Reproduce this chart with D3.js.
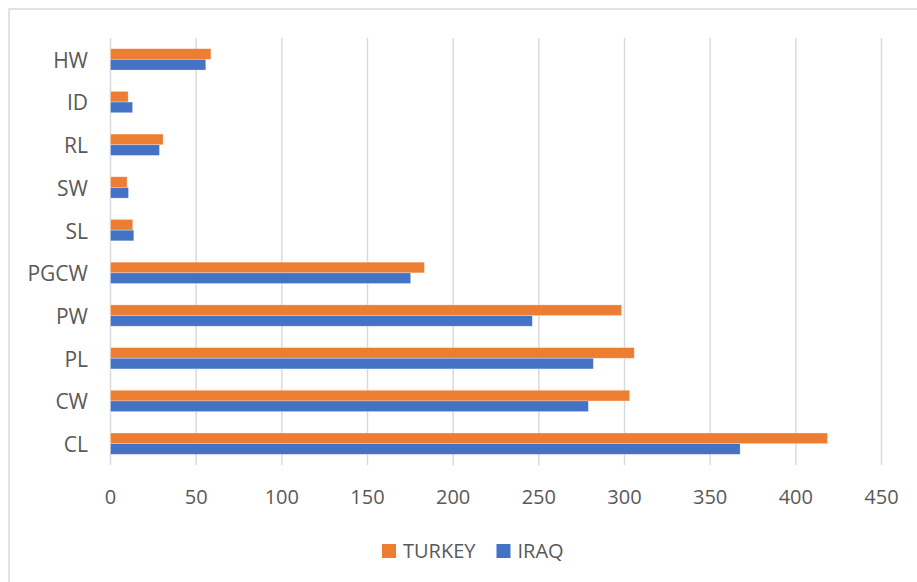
<!DOCTYPE html>
<html>
<head>
<meta charset="utf-8">
<script src="https://cdn.jsdelivr.net/npm/d3@7"></script>
<style>
  body { margin: 0; background: #fff; }
  text { font-family: "Open Sans", sans-serif; fill: #595959; }
</style>
</head>
<body>
<div class="canvas"></div>
<script>
// data
const categories = ['HW', 'ID', 'RL', 'SW', 'SL', 'PGCW', 'PW', 'PL', 'CW', 'CL']
const turkey = [58.6, 10.3, 30.7, 9.7, 13.0, 183.2, 298.3, 305.7, 303, 418.5]
const iraq = [55.6, 12.9, 28.6, 10.5, 13.6, 175.2, 246.2, 281.8, 278.9, 367.5]
const xTicks = [0, 50, 100, 150, 200, 250, 300, 350, 400, 450]
const seriesNames = ['TURKEY', 'IRAQ']
const seriesColours = ['#ED7D31', '#4472C4']

const dims = {width: 917, height: 582}
const plot = {left: 110.5, right: 881.5, top: 38, bottom: 465}

const svg = d3.select('.canvas')
    .append('svg')
    .attr('width', dims.width)
    .attr('height', dims.height)

// chart border
svg.append('rect')
    .attr('x', 9).attr('y', 9)
    .attr('width', dims.width + 20).attr('height', dims.height + 20)
    .attr('fill', 'none')
    .attr('stroke', '#d9d9d9')
    .attr('stroke-width', 1.5)

const x = d3.scaleLinear()
    .domain([0, 450])
    .range([plot.left, plot.right])

const y = d3.scaleBand()
    .domain(categories)
    .range([plot.top, plot.bottom])
    .paddingInner(0.5)
    .paddingOuter(0.25)

const ySub = d3.scaleBand()
    .domain(seriesNames)
    .range([0, y.bandwidth()])

// gridlines
svg.append('g')
    .selectAll('line')
    .data(xTicks)
    .join('line')
    .attr('x1', d => x(d)).attr('x2', d => x(d))
    .attr('y1', plot.top).attr('y2', plot.bottom)
    .attr('stroke', '#d9d9d9')
    .attr('stroke-width', 1.5)

// tick labels
svg.append('g')
    .selectAll('text')
    .data(xTicks)
    .join('text')
    .attr('x', d => x(d))
    .attr('y', 497)
    .attr('dy', '0.35em')
    .attr('text-anchor', 'middle')
    .attr('font-size', 20)
    .text(d => d)

// category labels
svg.append('g')
    .selectAll('text')
    .data(categories)
    .join('text')
    .attr('x', 88)
    .attr('y', d => y(d) + y.bandwidth() / 2 + 1)
    .attr('dy', '0.35em')
    .attr('text-anchor', 'end')
    .attr('font-size', 21)
    .text(d => d)

// bars
const series = [turkey, iraq]
series.forEach((vals, s) => {
    svg.append('g')
        .selectAll('rect')
        .data(vals)
        .join('rect')
        .attr('x', x(0))
        .attr('y', (d, i) => y(categories[i]) + ySub(seriesNames[s]))
        .attr('width', d => x(d) - x(0))
        .attr('height', ySub.bandwidth())
        .attr('fill', seriesColours[s])
        .attr('stroke', '#fff')
        .attr('stroke-opacity', 0.4)
        .attr('stroke-width', 0.75)
})

// legend
const legend = svg.append('g')
let lx = 382
seriesNames.forEach((name, i) => {
    legend.append('rect')
        .attr('x', lx).attr('y', 544)
        .attr('width', 14).attr('height', 14)
        .attr('fill', seriesColours[i])
    const t = legend.append('text')
        .attr('x', lx + 21)
        .attr('y', 551)
        .attr('dy', '0.35em')
        .attr('font-size', 20)
        .text(name)
    lx += 21 + t.node().getComputedTextLength() + 21
})
</script>
</body>
</html>
